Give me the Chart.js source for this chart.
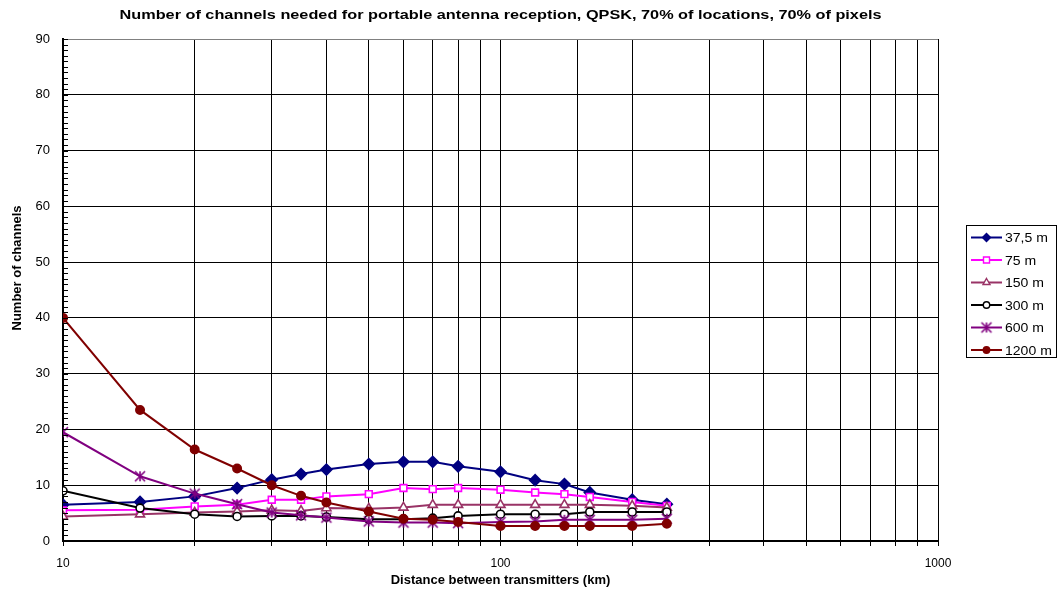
<!DOCTYPE html>
<html>
<head>
<meta charset="utf-8">
<title>Channels needed, portable reception</title>
<script src="https://cdn.jsdelivr.net/npm/chart.js@4.4.1/dist/chart.umd.min.js"></script>
<style>
  html, body { margin: 0; padding: 0; background: #fff; }
  #wrap { width: 1059px; height: 592px; position: relative; }
</style>
</head>
<body>
<div id="wrap"><canvas id="chart"></canvas></div>
<script>
// distance between transmitters (km)
const distances = [10, 15, 20, 25, 30, 35, 40, 50, 60, 70, 80, 100, 120, 140, 160, 200, 240];

// number of channels per pixel size
const ch37_5 = [6.5, 7.0, 8.0, 9.5, 11.0, 12.0, 12.8, 13.8, 14.2, 14.2, 13.4, 12.4, 10.9, 10.2, 8.7, 7.4, 6.6];
const ch75   = [5.5, 5.6, 6.2, 6.5, 7.4, 7.4, 8.0, 8.4, 9.5, 9.3, 9.5, 9.2, 8.7, 8.4, 7.9, 7.0, 6.3];
const ch150  = [4.4, 4.8, 5.1, 5.3, 5.5, 5.4, 5.9, 5.8, 6.0, 6.5, 6.5, 6.5, 6.5, 6.5, 6.5, 6.3, 6.0];
const ch300  = [9.0, 5.9, 4.8, 4.4, 4.5, 4.5, 4.3, 3.9, 3.9, 4.1, 4.5, 4.8, 4.8, 4.8, 5.2, 5.2, 5.2];
const ch600  = [19.5, 11.6, 8.5, 6.6, 5.1, 4.6, 4.2, 3.5, 3.3, 3.3, 3.2, 3.4, 3.5, 3.8, 3.8, 3.8, 4.0];
const ch1200 = [40.0, 23.5, 16.4, 13.0, 10.0, 8.1, 6.9, 5.3, 4.0, 3.8, 3.4, 2.7, 2.7, 2.7, 2.7, 2.7, 3.1];

const seriesNames = ['37,5 m', '75 m', '150 m', '300 m', '600 m', '1200 m'];
const seriesValues = [ch37_5, ch75, ch150, ch300, ch600, ch1200];
const xTickLabels = [10, 100, 1000];

const chartTitle = 'Number of channels needed for portable antenna reception, QPSK, 70% of locations, 70% of pixels';
const yTitle = 'Number of channels';
const FONT = '"Liberation Sans", Arial, sans-serif';

// asterisk marker (X with a vertical bar) as a small canvas
function asterisk(color, r) {
    const c = document.createElement('canvas');
    const s = Math.ceil(r * 2 + 4);
    c.width = s; c.height = s;
    const g = c.getContext('2d');
    const m = s / 2;
    g.strokeStyle = color;
    g.lineWidth = 1.6;
    g.beginPath();
    g.moveTo(m - r, m - r); g.lineTo(m + r, m + r);
    g.moveTo(m + r, m - r); g.lineTo(m - r, m + r);
    g.moveTo(m, m - r); g.lineTo(m, m + r);
    g.stroke();
    return c;
}

const styles = [
    { color: '#000080', point: 'rectRot',  fill: '#000080', radius: 5.5 },
    { color: '#FF00FF', point: 'rect',     fill: '#FFFFFF', radius: 4.8 },
    { color: '#993366', point: 'triangle', fill: '#FFFFFF', radius: 5.2 },
    { color: '#000000', point: 'circle',   fill: '#FFFFFF', radius: 4 },
    { color: '#800080', point: asterisk('#800080', 5), fill: '#800080', radius: 5 },
    { color: '#800000', point: 'circle',   fill: '#800000', radius: 4.2 }
];

const datasets = seriesValues.map((vals, i) => ({
    label: seriesNames[i],
    data: distances.map((d, j) => ({ x: d, y: vals[j] })),
    borderColor: styles[i].color,
    borderWidth: 2,
    pointStyle: styles[i].point,
    pointRadius: styles[i].radius,
    pointBackgroundColor: styles[i].fill,
    pointBorderColor: styles[i].color,
    pointBorderWidth: 1.6,
    tension: 0,
    order: seriesNames.length - i
}));

// minor ticks on the value axis, one per unit
const minorTicks = {
    id: 'minorTicks',
    afterDraw(chart) {
        const ctx = chart.ctx;
        const y = chart.scales.y;
        const left = chart.chartArea.left;
        ctx.save();
        ctx.strokeStyle = '#000';
        ctx.lineWidth = 1;
        for (let v = 0; v <= 90; v++) {
            const py = Math.round(y.getPixelForValue(v)) + 0.5;
            ctx.beginPath();
            ctx.moveTo(left, py);
            ctx.lineTo(left + 5, py);
            ctx.stroke();
        }
        ctx.restore();
    }
};

// chart title (a bit wide, stretched to span the plot) and the value axis title
const titles = {
    id: 'titles',
    afterDraw(chart) {
        const ctx = chart.ctx;
        const a = chart.chartArea;
        ctx.save();
        ctx.fillStyle = '#000';
        ctx.font = 'bold 13px ' + FONT;
        ctx.textAlign = 'center';
        ctx.textBaseline = 'middle';
        const w = ctx.measureText(chartTitle).width;
        const sx = 762 / w;
        ctx.translate((a.left + a.right) / 2, 15);
        ctx.scale(sx, 1);
        ctx.fillText(chartTitle, 0, 0);
        ctx.restore();

        ctx.save();
        ctx.fillStyle = '#000';
        ctx.font = 'bold 13px ' + FONT;
        ctx.textAlign = 'center';
        ctx.textBaseline = 'middle';
        ctx.translate(17, 268);
        ctx.rotate(-Math.PI / 2);
        ctx.fillText(yTitle, 0, 0);
        ctx.restore();
    }
};

function drawMarker(ctx, st, x, y, r) {
    ctx.save();
    ctx.strokeStyle = st.color;
    ctx.fillStyle = st.fill;
    ctx.lineWidth = 1.4;
    if (typeof st.point !== 'string') {
        ctx.drawImage(st.point, x - st.point.width / 2, y - st.point.height / 2);
        ctx.restore();
        return;
    }
    ctx.beginPath();
    if (st.point === 'rectRot') {
        ctx.moveTo(x, y - r); ctx.lineTo(x + r, y); ctx.lineTo(x, y + r); ctx.lineTo(x - r, y);
        ctx.closePath();
    } else if (st.point === 'rect') {
        const s = r * 0.75;
        ctx.rect(x - s, y - s, 2 * s, 2 * s);
    } else if (st.point === 'triangle') {
        ctx.moveTo(x, y - r); ctx.lineTo(x + r * 0.87, y + r * 0.5); ctx.lineTo(x - r * 0.87, y + r * 0.5);
        ctx.closePath();
    } else {
        ctx.arc(x, y, r * 0.8, 0, Math.PI * 2);
    }
    ctx.fill();
    ctx.stroke();
    ctx.restore();
}

// boxed legend on the right
const boxLegend = {
    id: 'boxLegend',
    afterDraw(chart) {
        const ctx = chart.ctx;
        const bx = 966, by = 225, bw = 90, bh = 132;
        ctx.save();
        ctx.strokeStyle = '#000';
        ctx.lineWidth = 1;
        ctx.strokeRect(bx + 0.5, by + 0.5, bw, bh);
        ctx.font = '13px ' + FONT;
        ctx.textBaseline = 'middle';
        ctx.textAlign = 'left';
        seriesNames.forEach((name, i) => {
            const y = by + 12.5 + i * 22.5;
            const st = styles[i];
            ctx.strokeStyle = st.color;
            ctx.lineWidth = 2;
            ctx.beginPath();
            ctx.moveTo(971, y);
            ctx.lineTo(1002, y);
            ctx.stroke();
            drawMarker(ctx, st, 986.5, y, 4);
            ctx.fillStyle = '#000';
            ctx.save();
            ctx.translate(1005, y + 1);
            ctx.scale(1.08, 1);
            ctx.fillText(name, 0, 0);
            ctx.restore();
        });
        ctx.restore();
    }
};

new Chart(document.getElementById('chart'), {
    type: 'line',
    data: { datasets },
    options: {
        responsive: true,
        maintainAspectRatio: false,
        animation: false,
        layout: { padding: { top: 39, right: 121, left: 0, bottom: 0 } },
        plugins: {
            legend: { display: false },
            title: { display: false },
            tooltip: { enabled: false }
        },
        scales: {
            x: {
                type: 'logarithmic',
                min: 10,
                max: 1000,
                afterFit: s => { s.height = 51; },
                grid: {
                    color: '#000',
                    lineWidth: 1,
                    drawTicks: true,
                    tickLength: 5,
                    tickColor: '#000'
                },
                border: { color: '#000', width: 2 },
                ticks: {
                    autoSkip: false,
                    maxRotation: 0,
                    color: '#000',
                    padding: 10,
                    font: { family: FONT, size: 12 },
                    callback: v => xTickLabels.includes(v) ? String(v) : ''
                },
                title: {
                    display: true,
                    text: 'Distance between transmitters (km)',
                    color: '#000',
                    font: { family: FONT, size: 13, weight: 'bold' },
                    padding: { top: 4, bottom: 4 }
                }
            },
            y: {
                min: 0,
                max: 90,
                afterFit: s => { s.width = 63; },
                grid: {
                    color: ctx => ctx.tick && ctx.tick.value === 90 ? '#808080' : '#000',
                    lineWidth: 1,
                    drawTicks: false
                },
                border: { color: '#000', width: 2 },
                ticks: {
                    stepSize: 10,
                    color: '#000',
                    padding: 13,
                    font: { family: FONT, size: 13 }
                },
                title: { display: false }
            }
        }
    },
    plugins: [minorTicks, titles, boxLegend]
});
</script>
</body>
</html>
